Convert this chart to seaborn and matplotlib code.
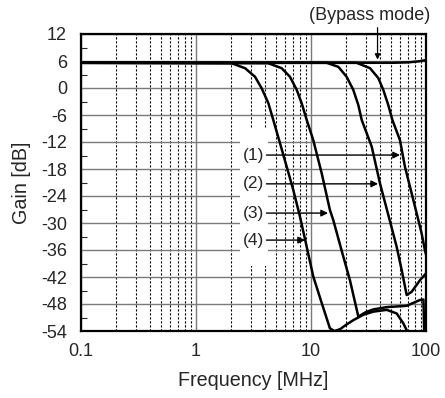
import numpy as np
import pandas as pd
import matplotlib
matplotlib.use('Agg')
import matplotlib.pyplot as plt
import seaborn as sns
from matplotlib.ticker import FixedLocator, NullFormatter, FixedFormatter
from matplotlib.patches import Rectangle

# ---- data ----
curve1_freq = [0.1, 24.9, 32.6, 38.5, 42.5, 47.0, 51.0, 59.4, 65.6, 75.0, 85.7, 91.6, 97.8, 100.0]
curve1_gain = [5.6, 5.6, 4.4, 2.2, -0.4, -3.8, -7.1, -11.6, -17.5, -23.4, -29.3, -32.3, -36.0, -37.0]

curve2_freq = [0.1, 13.7, 17.3, 20.4, 23.3, 25.8, 27.6, 33.7, 39.8, 47.0, 48.6, 55.6, 61.4, 67.9, 75.0, 88.7, 100.0]
curve2_gain = [5.6, 5.6, 4.7, 2.5, -0.4, -3.8, -7.1, -13.0, -21.2, -28.2, -29.6, -35.3, -40.4, -46.0, -45.3, -42.7, -41.2]

curve3_freq = [0.1, 4.26, 5.56, 6.56, 7.51, 8.3, 9.18, 10.47, 12.4, 14.6, 15.6, 18.5, 21.8, 25.8, 30.0, 34.8, 45.5, 67.9, 88.7, 95.0, 96.5]
curve3_gain = [5.6, 5.5, 4.4, 2.5, -0.4, -3.4, -7.1, -11.6, -19.0, -27.1, -29.3, -36.2, -42.7, -50.8, -49.8, -49.2, -48.7, -48.4, -47.1, -47.0, -54.5]

curve4_freq = [0.1, 2.04, 2.67, 3.26, 3.73, 4.26, 4.70, 5.38, 6.15, 7.02, 8.02, 8.87, 10.47, 12.4, 14.6, 16.0, 17.9, 20.0, 23.3, 28.5, 34.8, 45.5, 55.6, 63.5, 70.0]
curve4_gain = [5.6, 5.5, 4.4, 2.5, -0.1, -3.4, -7.1, -12.3, -17.5, -22.7, -28.6, -33.6, -41.9, -47.8, -53.4, -54.0, -53.6, -52.7, -51.6, -50.4, -49.7, -49.3, -50.1, -52.3, -54.5]

bypass_freq = [0.1, 50.0, 70.0, 85.0, 100.0]
bypass_gain = [5.6, 5.6, 5.7, 5.9, 6.2]

curve_names = ['(1)', '(2)', '(3)', '(4)']
label_gain = [-14.9, -21.3, -27.8, -33.8]
arrow_tip_freq = [59.4, 38.3, 14.06, 8.87]
arrow_start_freq = 4.1
label_text_freq = 3.95

bypass_label = '(Bypass mode)'
bypass_tip_freq = 37.9

x_ticks = [0.1, 1, 10, 100]
x_tick_labels = ['0.1', '1', '10', '100']
y_ticks = list(range(-54, 13, 6))
y_minor_ticks = list(range(-51, 12, 6))

# ---- long table ----
frames = []
for name, f, g in [('(1)', curve1_freq, curve1_gain), ('(2)', curve2_freq, curve2_gain),
                   ('(3)', curve3_freq, curve3_gain), ('(4)', curve4_freq, curve4_gain),
                   ('bypass', bypass_freq, bypass_gain)]:
    frames.append(pd.DataFrame({'curve': name, 'freq': f, 'gain': g}))
df = pd.concat(frames, ignore_index=True)

sns.set_style('white')
plt.rcParams['font.family'] = ['Liberation Sans', 'DejaVu Sans']
plt.rcParams['axes.unicode_minus'] = False

fig = plt.figure(figsize=(4.45, 3.98), dpi=100)
ax = fig.add_axes([81 / 445, 1 - 331 / 398, 345 / 445, 297 / 398])

sns.lineplot(data=df, x='freq', y='gain', units='curve', estimator=None, sort=False,
             color='black', lw=1.8, ax=ax, zorder=3)

ax.set_xscale('log')
ax.set_xlim(0.1, 100)
ax.set_ylim(-54, 12)

ax.xaxis.set_major_locator(FixedLocator(x_ticks))
ax.xaxis.set_major_formatter(FixedFormatter(x_tick_labels))
minor_x = [m * d for d in [0.1, 1, 10] for m in range(2, 10)]
ax.xaxis.set_minor_locator(FixedLocator(minor_x))
ax.xaxis.set_minor_formatter(NullFormatter())
ax.set_yticks(y_ticks)
ax.yaxis.set_minor_locator(FixedLocator(y_minor_ticks))

ax.set_axisbelow(True)
ax.grid(True, which='major', axis='y', color='#7a7a7a', lw=1.0)
ax.grid(True, which='major', axis='x', color='#7a7a7a', lw=1.0)
ax.grid(True, which='minor', axis='x', color='black', lw=0.8, linestyle=(0, (2, 1.6)))

ax.tick_params(axis='x', which='both', length=0, pad=9, labelsize=13)
ax.tick_params(axis='y', which='major', length=0, pad=10, labelsize=13)
ax.tick_params(axis='y', which='minor', direction='in', length=4, width=0.8, left=True)

for s in ax.spines.values():
    s.set_color('black')
    s.set_linewidth(1.6)

ax.set_xlabel('Frequency [MHz]', fontsize=14.2)
ax.set_ylabel('Gain [dB]', fontsize=14.2)
ax.xaxis.set_label_coords(0.5, -0.135)
ax.yaxis.set_label_coords(-0.145, 0.5)

# white backing behind the curve labels
ax.add_patch(Rectangle((2.41, -39.5), 4.23 - 2.41, 30.5, facecolor='white',
                       edgecolor='none', zorder=1.5))

for name, gy, tip in zip(curve_names, label_gain, arrow_tip_freq):
    ax.text(label_text_freq, gy, name, ha='right', va='center', fontsize=12.5, zorder=4)
    ax.annotate('', xy=(tip, gy), xytext=(arrow_start_freq, gy),
                arrowprops=dict(arrowstyle='-|>', color='black', lw=1.0,
                                mutation_scale=10, shrinkA=0, shrinkB=0), zorder=4)

ax.annotate('', xy=(bypass_tip_freq, 6.3), xytext=(bypass_tip_freq, 13.4),
            arrowprops=dict(arrowstyle='-|>', color='black', lw=0.9,
                            mutation_scale=8, shrinkA=0, shrinkB=0),
            annotation_clip=False, zorder=4)
ax.text(32.3, 16.2, bypass_label, ha='center', va='center', fontsize=13, clip_on=False)

fig.savefig('out.png', dpi=100)
